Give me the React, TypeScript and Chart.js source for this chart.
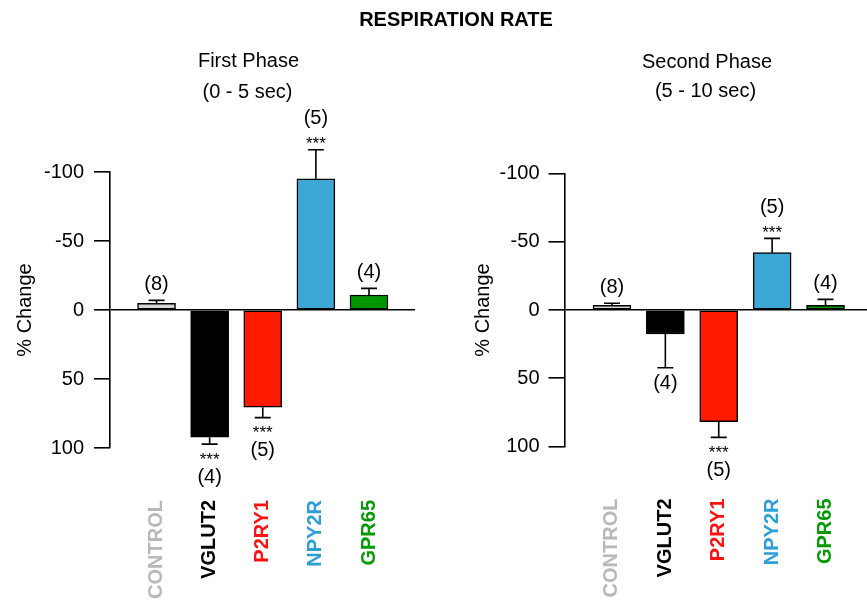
import React, { useEffect, useRef } from 'react';
import { Chart, registerables } from 'chart.js';

Chart.register(...registerables);

const FONT = "'Liberation Sans', Arial, Helvetica, sans-serif";

const categories = ['CONTROL', 'VGLUT2', 'P2RY1', 'NPY2R', 'GPR65'];
const barColors = ['#d2d2d2', '#000000', '#ff1a00', '#3ca8d6', '#009600'];
const labelColors = ['#b8b8b8', '#000000', '#ff1111', '#2c9fd8', '#069a06'];

// First phase (0 - 5 sec)
const firstMeans = [-4.9, 92.2, 70.5, -95.1, -10.9];
const firstErrors = [2.1, 5, 7.5, 21, 4.8];
const firstN = [8, 4, 5, 5, 4];
const firstSig = ['', '***', '***', '***', ''];

// Second phase (5 - 10 sec)
const secondMeans = [-3.4, 17.6, 81.8, -42, -3.4];
const secondErrors = [1.5, 24.7, 11.5, 10.5, 4.4];
const secondN = [8, 4, 5, 5, 4];
const secondSig = ['', '', '***', '***', ''];

const yTicks = [-100, -50, 0, 50, 100];

type PanelProps = {
  means: number[];
  errors: number[];
  ns: number[];
  sigs: string[];
  width: number;
  height: number;
  axisWidth: number;
  padTop: number;
  padRight: number;
  xAxisHeight: number;
  xMin: number;
  xMax: number;
  yTitlePad: number;
  tickPad: number;
};

function Panel(p: PanelProps) {
  const ref = useRef<HTMLCanvasElement | null>(null);
  useEffect(() => {
    if (!ref.current) return;
    const errPlugin = {
      id: 'errbars',
      afterDatasetsDraw(chart: any) {
        const ctx = chart.ctx;
        const xs = chart.scales.x;
        const ys = chart.scales.y;
        ctx.save();
        ctx.strokeStyle = '#000';
        ctx.fillStyle = '#000';
        ctx.lineWidth = 1.6;
        p.means.forEach((m, i) => {
          const sign = m < 0 ? -1 : 1;
          const x = xs.getPixelForValue(i);
          const y0 = ys.getPixelForValue(m);
          const y1 = ys.getPixelForValue(m + sign * p.errors[i]);
          ctx.beginPath();
          ctx.moveTo(x, y0);
          ctx.lineTo(x, y1);
          ctx.moveTo(x - 8, y1);
          ctx.lineTo(x + 8, y1);
          ctx.stroke();
          ctx.textAlign = 'center';
          ctx.textBaseline = 'middle';
          const up = m < 0; // negative values are drawn upward (reversed axis)
          const dir = up ? -1 : 1;
          let countY;
          if (p.sigs[i]) {
            ctx.font = `17px ${FONT}`;
            const starY = y1 + dir * (up ? 9 : 12);
            ctx.fillText(p.sigs[i], x, starY + 4);
            countY = y1 + dir * (up ? 31 : 33);
          } else {
            countY = y1 + dir * 16;
          }
          ctx.font = `20px ${FONT}`;
          ctx.fillText(`(${p.ns[i]})`, x, countY);
        });
        ctx.restore();
      },
    };

    const chart = new Chart(ref.current, {
      type: 'bar',
      data: {
        datasets: [
          {
            data: p.means.map((v, i) => ({ x: i, y: v })),
            backgroundColor: barColors,
            borderColor: '#000',
            borderWidth: 1.5,
            borderSkipped: false,
            barThickness: 38,
          } as any,
        ],
      },
      options: {
        animation: false,
        responsive: false,
        layout: { padding: { top: p.padTop, right: p.padRight, left: 0, bottom: 0 } },
        plugins: { legend: { display: false }, tooltip: { enabled: false }, title: { display: false } },
        scales: {
          x: {
            type: 'linear',
            offset: false,
            min: p.xMin,
            max: p.xMax,
            grid: { display: false, drawTicks: false, offset: false },
            border: { display: false },
            afterBuildTicks: (s: any) => {
              s.ticks = categories.map((_, i) => ({ value: i }));
            },
            afterFit: (s: any) => {
              s.height = p.xAxisHeight;
              s.paddingLeft = 0;
              s.paddingRight = 0;
            },
            ticks: {
              autoSkip: false,
              minRotation: 90,
              maxRotation: 90,
              padding: 52,
              font: { family: FONT, size: 20, weight: 'bold' },
              color: (c: any) => labelColors[c.index] || '#000',
              callback: (v: any) => categories[v as number] ?? '',
            },
          },
          y: {
            type: 'linear',
            min: -100,
            max: 100,
            reverse: true,
            afterBuildTicks: (s: any) => {
              s.ticks = yTicks.map((v) => ({ value: v }));
            },
            afterFit: (s: any) => {
              s.width = p.axisWidth;
              s.paddingTop = 0;
              s.paddingBottom = 0;
            },
            border: { display: true, color: '#000', width: 1.6 },
            grid: {
              drawOnChartArea: true,
              color: (c: any) => (c.tick && c.tick.value === 0 ? '#000' : 'rgba(0,0,0,0)'),
              lineWidth: 1.6,
              tickColor: '#000',
              tickLength: 16,
            },
            ticks: {
              padding: p.tickPad,
              color: '#000',
              font: { family: FONT, size: 20 },
            },
            title: {
              display: true,
              text: '% Change',
              color: '#000',
              font: { family: FONT, size: 20 },
              padding: { top: p.yTitlePad, bottom: 0 },
            },
          },
        },
      } as any,
      plugins: [errPlugin],
    });
    return () => chart.destroy();
  }, []);
  return <canvas ref={ref} width={p.width} height={p.height} style={{ display: 'block', width: p.width, height: p.height }} />;
}

const textStyle = (cx: number, cy: number, bold = false): React.CSSProperties => ({
  position: 'absolute',
  left: cx - 150,
  top: cy - 15,
  width: 300,
  height: 30,
  lineHeight: '30px',
  textAlign: 'center',
  fontFamily: FONT,
  fontSize: 20,
  fontWeight: bold ? 'bold' : 'normal',
  color: '#000',
  whiteSpace: 'nowrap',
});

export default function App() {
  return (
    <div style={{ position: 'absolute', left: 0, top: 0, width: 867, height: 605, background: '#fff', overflow: 'hidden' }}>
      <div style={{ position: 'absolute', left: 0, top: 0 }}>
        <Panel
          means={firstMeans}
          errors={firstErrors}
          ns={firstN}
          sigs={firstSig}
          width={433}
          height={605}
          axisWidth={110}
          padTop={172}
          padRight={18}
          xAxisHeight={157}
          xMin={-0.876}
          xMax={4.866}
          yTitlePad={13}
          tickPad={10}
        />
      </div>
      <div style={{ position: 'absolute', left: 433, top: 0 }}>
        <Panel
          means={secondMeans}
          errors={secondErrors}
          ns={secondN}
          sigs={secondSig}
          width={434}
          height={605}
          axisWidth={131.5}
          padTop={173.5}
          padRight={0}
          xAxisHeight={158.5}
          xMin={-0.889}
          xMax={4.777}
          yTitlePad={38}
          tickPad={9}
        />
      </div>
      <div style={textStyle(456, 19, true)}>RESPIRATION RATE</div>
      <div style={textStyle(248.5, 60)}>First Phase</div>
      <div style={textStyle(247.5, 91)}>(0 - 5 sec)</div>
      <div style={textStyle(707, 61)}>Second Phase</div>
      <div style={textStyle(705.5, 90)}>(5 - 10 sec)</div>
    </div>
  );
}
